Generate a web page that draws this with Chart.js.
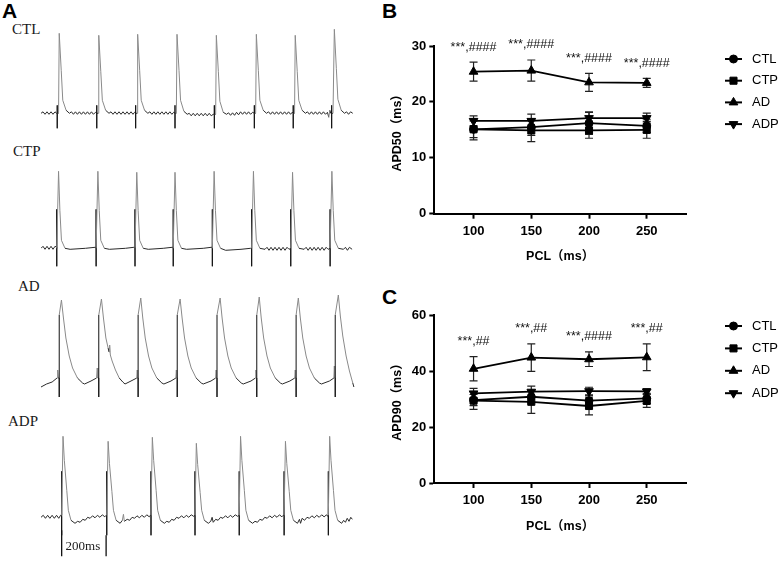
<!DOCTYPE html>
<html>
<head>
<meta charset="utf-8">
<script src="https://cdn.jsdelivr.net/npm/chart.js@4/dist/chart.umd.min.js"></script>
<style>
  html, body { margin:0; padding:0; background:#fff; }
  body { width:782px; height:562px; position:relative; overflow:hidden; }
  canvas { position:absolute; }
  .lab { position:absolute; font-family:"Liberation Serif","Times New Roman",serif; font-size:15px; line-height:15px; color:#1a1a1a; white-space:nowrap; }
  .pan { position:absolute; font-family:"Liberation Sans",Arial,sans-serif; font-weight:bold; font-size:21px; line-height:21px; color:#000; }
</style>
</head>
<body>
<div class="pan" style="left:2px;top:0px;">A</div>
<div class="pan" style="left:382px;top:0px;">B</div>
<div class="pan" style="left:382px;top:286px;">C</div>
<div class="lab" style="left:12px;top:22px;">CTL</div>
<div class="lab" style="left:13px;top:144px;">CTP</div>
<div class="lab" style="left:18px;top:279px;">AD</div>
<div class="lab" style="left:8px;top:414px;">ADP</div>

<canvas id="trCTL" width="314" height="110" style="left:41px;top:25px;width:314px;height:110px;"></canvas>
<canvas id="trCTP" width="314" height="115" style="left:41px;top:160px;width:314px;height:115px;"></canvas>
<canvas id="trAD" width="314" height="115" style="left:41px;top:290px;width:314px;height:115px;"></canvas>
<canvas id="trADP" width="314" height="135" style="left:41px;top:425px;width:314px;height:135px;"></canvas>
<canvas id="chartB" width="402" height="280" style="left:380px;top:0px;width:402px;height:280px;"></canvas>
<canvas id="chartC" width="402" height="282" style="left:380px;top:280px;width:402px;height:282px;"></canvas>

<script>
// ---------------- DATA ----------------
// Panel B / C : pacing cycle length (ms)
const pcl = [100, 150, 200, 250];
const groups = ['CTL', 'CTP', 'AD', 'ADP'];

// APD50 (ms), mean and SEM
const apd50CTL = [15.1, 15.5, 16.2, 15.7];
const apd50CTP = [15.1, 14.9, 14.9, 15.0];
const apd50AD  = [25.4, 25.6, 23.5, 23.4];
const apd50ADP = [16.6, 16.6, 17.1, 17.1];
const sem50CTL = [1.5, 1.5, 2.0, 1.2];
const sem50CTP = [1.9, 2.0, 1.4, 1.5];
const sem50AD  = [1.7, 1.9, 1.6, 0.8];
const sem50ADP = [0.9, 1.2, 1.0, 0.9];
const sig50 = ['***,####', '***,####', '***,####', '***,####'];

// APD90 (ms), mean and SEM
const apd90CTL = [29.6, 30.8, 29.4, 30.2];
const apd90CTP = [29.4, 29.0, 27.5, 29.3];
const apd90AD  = [40.8, 44.8, 44.2, 44.9];
const apd90ADP = [32.0, 32.6, 32.8, 32.7];
const sem90CTL = [2.0, 2.2, 2.0, 1.8];
const sem90CTP = [3.1, 4.1, 3.2, 2.3];
const sem90AD  = [4.3, 4.9, 2.6, 4.8];
const sem90ADP = [1.8, 2.0, 1.4, 1.0];
const sig90 = ['***,##', '***,##', '***,####', '***,##'];

const yTicks50 = [0, 10, 20, 30];
const yTicks90 = [0, 20, 40, 60];

// Panel A : representative action potential traces, [time (ms), potential relative to rest (mV)]
const ctlTrace = [
 [0,0],[9,1.5],[18,-1],[27,1.5],[36,-1],[45,1.5],[54,-1],[63,1.5],[70,0],
 [73,0],[73,8],[73,-15],[73,0],[79,0],[82,80],[91,43],[98,13],[113,3],[128,0],
 [137,1.5],[146,-1],[155,1.5],[164,-1],[173,1.5],[182,-1],[191,1.5],[200,-1],[209,1.5],[218,-1],[227,1.5],[236,-1],[245,1],
 [251,0],[251,8],[251,-15],[251,0],[257,0],[260,78],[269,42],[276,13],[291,3],[306,0],
 [315,1.5],[324,-1],[333,1.5],[342,-1],[351,1.5],[360,-1],[369,1.5],[378,-1],[387,1.5],[396,-1],[405,1.5],[414,-1],[421,1],
 [426,0],[426,8],[426,-15],[426,0],[432,0],[435,79],[444,43],[451,13],[466,3],[481,0],
 [490,1.5],[499,-1],[508,1.5],[517,-1],[526,1.5],[535,-1],[544,1.5],[553,-1],[562,1.5],[571,-1],[580,1.5],[589,-1],[597,1],
 [603,0],[603,8],[603,-15],[603,0],[609,0],[612,79],[621,43],[628,13],[643,2],[658,-1],
 [667,0],[676,-2.5],[685,0],[694,-2.5],[703,0],[712,-2.5],[721,0],[730,-2.5],[739,0],[748,-2.5],[757,0],[766,-2.5],[775,-1],
 [780,-1],[780,8],[780,-15],[780,-1],[786,-1],[789,78],[798,42],[805,12],[820,1],[835,-1],
 [844,0.5],[853,-2],[862,0.5],[871,-2],[880,1],[889,-1.5],[898,1.5],[907,-1],[916,1.5],[925,-1],[934,1.5],[943,-1],[952,1],
 [960,0],[960,8],[960,-15],[960,0],[966,0],[969,79],[978,43],[985,13],[1000,3],[1015,0],
 [1024,1.5],[1033,-1],[1042,1.5],[1051,-1],[1060,1.5],[1069,-1],[1078,1.5],[1087,-1],[1096,1.5],[1105,-1],[1114,1.5],[1123,-1],[1130,1],
 [1135,0],[1135,8],[1135,-15],[1135,0],[1141,0],[1144,78],[1153,42],[1160,13],[1175,3],[1190,0],
 [1199,1.5],[1208,-1],[1217,1.5],[1226,-1],[1235,1.5],[1244,-1],[1253,1.5],[1262,-1],[1271,1.5],[1280,-1],[1289,1],[1295,-4],[1300,3],[1304,0],
 [1308,0],[1308,8],[1308,-15],[1308,0],[1314,0],[1320,84],[1329,45],[1336,14],[1351,3],[1366,0],
 [1375,1.5],[1384,-1],[1393,1.5],[1403,0]
];
const ctpTrace = [
 [0,1],[9,3],[18,0],[27,3],[36,0],[45,3],[54,0],[63,3],[71,2],
 [71,40],[71,-17],[71,1],[79,78],[85,39],[92,9],[108,1],[131,0],[200,1],[243,2],
 [248,2],[248,40],[248,-17],[248,1],[256,78],[262,39],[269,9],[285,1],[308,0],[380,1],[418,2],
 [423,2],[423,40],[423,-17],[423,1],[431,77],[437,39],[444,9],[460,1],[483,0],[550,1],[590,2],
 [595,2],[595,40],[595,-17],[595,1],[603,77],[609,39],[616,9],[632,1],[655,0],[730,1],[766,2],
 [771,2],[771,40],[771,-17],[771,1],[779,78],[785,39],[792,9],[808,1],[831,-1],[900,0],[943,1],
 [948,1],[948,40],[948,-17],[948,1],[956,78],[962,39],[969,9],[985,1],[1008,0],
 [1017,2],[1026,-1],[1035,2],[1044,-1],[1053,2],[1062,-1],[1071,2],[1080,-1],[1089,2],[1098,-1],[1107,2],[1116,0],[1124,1],
 [1124,40],[1124,-17],[1124,1],[1132,77],[1138,39],[1145,9],[1161,1],[1184,0],
 [1193,2],[1202,-1],[1211,2],[1220,-1],[1229,2],[1238,-1],[1247,2],[1256,-1],[1265,2],[1274,-1],[1283,2],[1292,0],[1301,1],
 [1301,40],[1301,-17],[1301,1],[1309,78],[1315,39],[1322,9],[1338,1],[1361,0],
 [1370,2],[1379,-1],[1388,2],[1400,0]
];
const adTrace = [
 [0,-1],[25,2],[50,4],[72,8],[75,16],[78,8],[82,8],[82,-11],[82,71],[92,86],[101,68],[112,48],[127,30],[142,18],[164,8],[187,3],[196,2],[225,5],[250,8],
 [253,18],[256,8],[260,8],[260,-11],[260,71],[272,87],[281,68],[292,48],[302,38],[306,34],[309,41],[312,31],[320,25],[335,16],[352,8],[368,4],[378,2],[405,5],[431,8],
 [433,16],[435,8],[437,8],[437,-11],[437,71],[449,88],[458,68],[469,48],[484,30],[499,18],[521,8],[544,3],[553,2],[585,5],[607,8],
 [609,16],[611,8],[613,8],[613,-11],[613,71],[626,87],[635,68],[646,48],[661,30],[676,18],[698,8],[721,3],[730,2],[765,5],[786,8],
 [788,16],[790,8],[792,8],[792,-11],[792,71],[806,88],[815,68],[826,48],[841,30],[856,18],[878,8],[901,3],[910,2],[945,5],[965,8],
 [967,16],[969,8],[971,8],[971,-11],[971,71],[982,89],[991,68],[1002,48],[1017,30],[1032,18],[1054,8],[1077,3],[1086,2],[1120,5],[1142,8],
 [1144,16],[1146,8],[1148,8],[1148,-11],[1148,71],[1158,88],[1167,68],[1178,48],[1193,30],[1208,18],[1230,8],[1253,3],[1262,2],[1298,5],[1318,8],
 [1320,20],[1322,8],[1324,8],[1324,-11],[1324,71],[1338,91],[1347,70],[1358,50],[1373,30],[1388,15],[1403,3],[1408,-1]
];
const adpTrace = [
 [0,0],[10,2],[20,-1],[30,2],[40,-1],[50,2],[60,-1],[70,2],[80,-1],[88,2],
 [93,1],[93,46],[93,-18],[93,2],[99,81],[105,57],[116,27],[123,7],[135,-3],[153,-6],
 [165,-4],[176,-5],[188,-2],[199,-3],[210,0],[221,-1],[232,1.5],[243,-0.5],[254,2],[265,0],[276,2.5],[287,0.5],[293,2],
 [296,2],[296,46],[296,-18],[296,2],[302,76],[308,54],[319,26],[326,7],[338,-3],[356,-6],
 [366,-3],[371,3],[375,-4],[388,-2],[399,-3],[410,0],[421,-1],[432,1.5],[443,-0.5],[454,2],[465,0],[476,2.5],[487,0.5],[492,2],
 [495,2],[495,46],[495,-18],[495,2],[501,80],[507,57],[518,27],[525,7],[537,-3],[555,-6],
 [566,-4],[577,-5],[588,-2],[599,-3],[610,0],[621,-1],[632,1.5],[643,-0.5],[654,2],[665,0],[676,2.5],[687,1],
 [693,2],[693,46],[693,-18],[693,2],[699,74],[705,53],[716,25],[723,7],[735,-3],[753,-6],
 [764,-4],[770,0],[775,-5],[786,-2],[797,-3],[808,0],[819,-1],[830,1.5],[841,-0.5],[852,2],[863,0],[874,2.5],[885,1],
 [892,2],[892,46],[892,-18],[892,2],[898,81],[904,57],[915,27],[922,7],[934,-3],[952,-6],
 [963,-4],[974,-5],[985,-2],[996,-3],[1007,0],[1018,-1],[1029,1.5],[1040,-0.5],[1051,2],[1062,0],[1073,2.5],[1084,0.5],[1090,2],
 [1094,2],[1094,46],[1094,-18],[1094,2],[1100,76],[1106,54],[1117,26],[1124,7],[1136,-3],[1154,-6],
 [1163,-2],[1168,-6],[1175,-1],[1186,-3],[1197,0],[1208,-1],[1219,1.5],[1230,-0.5],[1241,2],[1252,0],[1263,2.5],[1274,0.5],[1285,2.5],[1290,1],
 [1293,2],[1293,46],[1293,-18],[1293,2],[1299,81],[1305,57],[1316,27],[1323,7],[1335,-3],[1353,-6],
 [1362,-3],[1370,-5],[1378,-1],[1386,-4],[1394,0],[1401,-2]
];
// 200 ms time-scale bar under the ADP trace
const scaleBarT = [93, 293];
const scaleBarV = [-13, -39];
const scaleBarLabel = '200ms';

// ---------------- RENDERING ----------------
Chart.defaults.font.family = '"Liberation Sans", Arial, "Noto Sans CJK SC", sans-serif';
Chart.defaults.color = '#000';

function traceChart(id, pts, yMin, yMax, extraDatasets, extraPlugins) {
  const ds = [{
    data: pts.map(p => ({x: p[0], y: p[1]})),
    showLine: true, pointRadius: 0, borderWidth: 1, borderColor: '#555',
    segment: {
      borderColor: c => {
        const dx = c.p1.parsed.x - c.p0.parsed.x, dy = Math.abs(c.p1.parsed.y - c.p0.parsed.y);
        if (dx === 0) return '#111';
        return dy > 5 ? '#8a8a8a' : '#2a2a2a';
      }
    }
  }].concat(extraDatasets || []);
  return new Chart(document.getElementById(id), {
    type: 'scatter',
    data: {datasets: ds},
    options: {
      responsive: false, animation: false,
      layout: {padding: 0},
      plugins: {legend: {display: false}, tooltip: {enabled: false}},
      scales: {
        x: {type: 'linear', display: false, min: 0, max: 1413},
        y: {type: 'linear', display: false, min: yMin, max: yMax}
      }
    },
    plugins: extraPlugins || []
  });
}

traceChart('trCTL', ctlTrace, -21.7, 88.3);
traceChart('trCTP', ctpTrace, -25.7, 89.3);
traceChart('trAD', adTrace, -19, 96);
traceChart('trADP', adpTrace, -42.7, 92.3, [
  {data: [{x: scaleBarT[0], y: scaleBarV[0]}, {x: scaleBarT[0], y: scaleBarV[1]}], showLine: true, pointRadius: 0, borderWidth: 1.3, borderColor: '#111'},
  {data: [{x: scaleBarT[1], y: scaleBarV[0] - 5}, {x: scaleBarT[1], y: scaleBarV[1]}], showLine: true, pointRadius: 0, borderWidth: 1.3, borderColor: '#111'}
], [{
  id: 'barLabel',
  afterDraw(chart) {
    const {ctx, scales} = chart;
    const x = scales.x.getPixelForValue((scaleBarT[0] + scaleBarT[1]) / 2);
    const y = scales.y.getPixelForValue((scaleBarV[0] + scaleBarV[1]) / 2 - 3);
    ctx.save();
    ctx.font = '13px "Liberation Serif", "Times New Roman", serif';
    ctx.fillStyle = '#1a1a1a';
    ctx.textAlign = 'center'; ctx.textBaseline = 'middle';
    ctx.fillText(scaleBarLabel, x - 1, y);
    ctx.restore();
  }
}]);

const errorBars = {
  id: 'errorBars',
  beforeDatasetsDraw(chart) {
    const {ctx} = chart;
    const ys = chart.scales.y;
    chart.data.datasets.forEach((ds, i) => {
      const meta = chart.getDatasetMeta(i);
      meta.data.forEach((pt, j) => {
        const m = ds.data[j].y, e = ds.sem[j];
        const yt = ys.getPixelForValue(m + e), yb = ys.getPixelForValue(m - e);
        ctx.save();
        ctx.strokeStyle = '#222'; ctx.lineWidth = 1.2;
        ctx.beginPath();
        ctx.moveTo(pt.x, yt); ctx.lineTo(pt.x, yb);
        ctx.moveTo(pt.x - 4, yt); ctx.lineTo(pt.x + 4, yt);
        ctx.moveTo(pt.x - 4, yb); ctx.lineTo(pt.x + 4, yb);
        ctx.stroke();
        ctx.restore();
      });
    });
  }
};

const sigLabels = {
  id: 'sigLabels',
  afterDatasetsDraw(chart, args, opts) {
    const {ctx} = chart;
    const ys = chart.scales.y;
    const ds = chart.data.datasets[opts.ref];
    const meta = chart.getDatasetMeta(opts.ref);
    ctx.save();
    ctx.font = '12.5px "Liberation Sans", Arial, sans-serif';
    ctx.fillStyle = '#111';
    ctx.textAlign = 'center'; ctx.textBaseline = 'middle';
    meta.data.forEach((pt, j) => {
      const y = ys.getPixelForValue(ds.data[j].y + ds.sem[j]) - 15;
      ctx.fillText(opts.labels[j], pt.x, y);
    });
    ctx.restore();
  }
};

const sideLegend = {
  id: 'sideLegend',
  afterDraw(chart, args, opts) {
    const {ctx, chartArea} = chart;
    const x0 = chartArea.right + 39;
    chart.data.datasets.forEach((ds, i) => {
      const y = chartArea.top + opts.dy + i * opts.gap;
      ctx.save();
      ctx.strokeStyle = '#000'; ctx.fillStyle = '#000'; ctx.lineWidth = 2;
      ctx.beginPath(); ctx.moveTo(x0, y); ctx.lineTo(x0 + 17, y); ctx.stroke();
      ctx.lineWidth = 1;
      Chart.helpers.drawPoint(ctx, {pointStyle: ds.pointStyle, rotation: ds.pointRotation || 0, radius: ds.pointRadius, borderWidth: 1}, x0 + 8.5, y);
      ctx.font = '13px "Liberation Sans", Arial, sans-serif';
      ctx.textAlign = 'left'; ctx.textBaseline = 'middle';
      ctx.fillText(ds.label, x0 + 27, y);
      ctx.restore();
    });
  }
};

const styles = [
  {pointStyle: 'circle', pointRadius: 4, pointRotation: 0},
  {pointStyle: 'rect', pointRadius: 5, pointRotation: 0},
  {pointStyle: 'triangle', pointRadius: 5, pointRotation: 0},
  {pointStyle: 'triangle', pointRadius: 5, pointRotation: 180}
];

function apdChart(id, means, sems, sig, yMax, yTicks, yTitle, geo) {
  const datasets = groups.map((g, k) => Object.assign({
    label: g,
    data: pcl.map((x, i) => ({x, y: means[k][i]})),
    sem: sems[k],
    showLine: true,
    borderColor: '#000', backgroundColor: '#000',
    borderWidth: 1.8, pointBorderWidth: 1
  }, styles[k]));
  return new Chart(document.getElementById(id), {
    type: 'scatter',
    data: {datasets},
    options: {
      responsive: false, animation: false,
      layout: {padding: {left: 0, top: geo.top, right: geo.right, bottom: 0}},
      plugins: {
        legend: {display: false}, tooltip: {enabled: false},
        sigLabels: {ref: 2, labels: sig},
        sideLegend: {dy: geo.legDy, gap: geo.legGap}
      },
      scales: {
        x: {
          type: 'linear', min: 66, max: 284,
          afterBuildTicks: a => { a.ticks = pcl.map(v => ({value: v})); },
          afterFit: s => { s.height = geo.xH; },
          border: {color: '#000', width: 2},
          grid: {drawOnChartArea: false, color: '#000', tickColor: '#000', tickLength: 5, tickWidth: 2},
          ticks: {font: {size: 13, weight: 'bold'}, color: '#000', padding: 5, maxRotation: 0},
          title: {display: true, text: 'PCL（ms）', font: {size: 12.5, weight: 'bold'}, color: '#000', padding: {top: 0, bottom: geo.xTitlePad}}
        },
        y: {
          type: 'linear', min: 0, max: yMax,
          afterBuildTicks: a => { a.ticks = yTicks.map(v => ({value: v})); },
          afterFit: s => { s.width = 54.3; },
          border: {color: '#000', width: 2},
          grid: {drawOnChartArea: false, color: '#000', tickColor: '#000', tickLength: 5, tickWidth: 2},
          ticks: {font: {size: 13, weight: 'bold'}, color: '#000', padding: 3},
          title: {display: true, text: yTitle, font: {size: 12.5, weight: 'bold'}, color: '#000', padding: {top: 10, bottom: 0}}
        }
      }
    },
    plugins: [errorBars, sigLabels, sideLegend]
  });
}

apdChart('chartB',
  [apd50CTL, apd50CTP, apd50AD, apd50ADP],
  [sem50CTL, sem50CTP, sem50AD, sem50ADP],
  sig50, 30, yTicks50, 'APD50（ms）',
  {top: 46, right: 96, xH: 66.3, xTitlePad: 16, legDy: 13, legGap: 21.7});

apdChart('chartC',
  [apd90CTL, apd90CTP, apd90AD, apd90ADP],
  [sem90CTL, sem90CTP, sem90AD, sem90ADP],
  sig90, 60, yTicks90, 'APD90（ms）',
  {top: 35, right: 96, xH: 79, xTitlePad: 28, legDy: 11, legGap: 22.4});
</script>
</body>
</html>
